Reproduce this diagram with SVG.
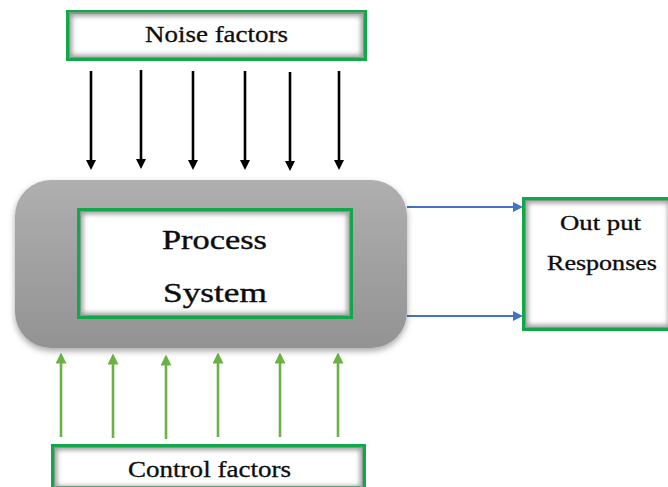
<svg xmlns="http://www.w3.org/2000/svg" width="668" height="487" viewBox="0 0 668 487">
<defs>
<filter id="blur" x="-10%" y="-10%" width="120%" height="120%"><feGaussianBlur stdDeviation="2.5"/></filter>
<filter id="shadow" x="-10%" y="-10%" width="120%" height="130%"><feDropShadow dx="0" dy="3" stdDeviation="3" flood-color="#000" flood-opacity="0.35"/></filter>
<linearGradient id="gray" x1="0" y1="0" x2="0" y2="1"><stop offset="0" stop-color="#afafaf"/><stop offset="1" stop-color="#939393"/></linearGradient>
<marker id="ahB" markerWidth="10" markerHeight="10" refX="5" refY="5" orient="auto" markerUnits="userSpaceOnUse" viewBox="0 0 10 10"><path d="M0,0 L10,5 L0,10 Z" fill="#000"/></marker>
<marker id="ahG" markerWidth="11" markerHeight="11" refX="5" refY="5" orient="auto" markerUnits="userSpaceOnUse" viewBox="0 0 10 10"><path d="M0,0 L10,5 L0,10 Z" fill="#6cb143"/></marker>
<marker id="ahU" markerWidth="11" markerHeight="10" refX="5" refY="5" orient="auto" markerUnits="userSpaceOnUse" viewBox="0 0 10 10"><path d="M0,0 L10,5 L0,10 Z" fill="#4472c4"/></marker>
<clipPath id="cN"><rect x="69" y="12" width="295" height="46"/></clipPath>
<clipPath id="cP"><rect x="80" y="211" width="270" height="105"/></clipPath>
<clipPath id="cO"><rect x="525" y="200" width="145" height="128"/></clipPath>
<clipPath id="cC"><rect x="54" y="447" width="309" height="40"/></clipPath>
</defs>
<rect width="668" height="487" fill="#fff"/>

<g id="connectors" fill="none">
<g stroke="#000" stroke-width="2.6" marker-end="url(#ahB)">
<line x1="91" y1="71" x2="91" y2="165"/>
<line x1="141" y1="70" x2="141" y2="164"/>
<line x1="193" y1="71" x2="193" y2="165"/>
<line x1="245" y1="71" x2="245" y2="165"/>
<line x1="290" y1="72" x2="290" y2="166"/>
<line x1="339" y1="71" x2="339" y2="165"/>
</g>
<g stroke="#6cb143" stroke-width="2.6" marker-end="url(#ahG)">
<line x1="61" y1="437" x2="61" y2="358"/>
<line x1="113" y1="438" x2="113" y2="359"/>
<line x1="166" y1="439" x2="166" y2="360"/>
<line x1="218" y1="437" x2="218" y2="358"/>
<line x1="280" y1="437" x2="280" y2="358"/>
<line x1="338" y1="437" x2="338" y2="358"/>
</g>
<g stroke="#4472c4" stroke-width="1.8" marker-end="url(#ahU)">
<line x1="407" y1="207" x2="518" y2="207"/>
<line x1="407" y1="316" x2="518" y2="316"/>
</g>
</g>

<g id="noise">
<rect x="68" y="12" width="297" height="47" fill="#fff" stroke="#12a84a" stroke-width="4"/>
<rect x="69" y="13" width="295" height="45" fill="none" stroke="#9a9a9a" stroke-width="6" filter="url(#blur)" clip-path="url(#cN)"/>
<text x="145" y="42" font-family="Liberation Serif" font-size="23" fill="#0d0d0d" stroke="#0d0d0d" stroke-width="0.3" textLength="143" lengthAdjust="spacingAndGlyphs">Noise factors</text>
</g>

<g id="process">
<rect x="15" y="180" width="392" height="168" rx="36" fill="url(#gray)" filter="url(#shadow)"/>
<rect x="79" y="210" width="272" height="107" fill="#fff" stroke="#12a84a" stroke-width="4"/>
<rect x="80" y="211" width="270" height="105" fill="none" stroke="#9a9a9a" stroke-width="6" filter="url(#blur)" clip-path="url(#cP)"/>
<text x="162" y="249" font-family="Liberation Serif" font-size="28" fill="#0d0d0d" stroke="#0d0d0d" stroke-width="0.4" textLength="105" lengthAdjust="spacingAndGlyphs">Process</text>
<text x="163" y="302" font-family="Liberation Serif" font-size="28" fill="#0d0d0d" stroke="#0d0d0d" stroke-width="0.4" textLength="104" lengthAdjust="spacingAndGlyphs">System</text>
</g>

<g id="output">
<rect x="524" y="199" width="148" height="130" fill="#fff" stroke="#12a84a" stroke-width="4"/>
<rect x="525" y="200" width="146" height="128" fill="none" stroke="#9a9a9a" stroke-width="6" filter="url(#blur)" clip-path="url(#cO)"/>
<text x="560" y="230" font-family="Liberation Serif" font-size="20" fill="#0d0d0d" stroke="#0d0d0d" stroke-width="0.3" textLength="81" lengthAdjust="spacingAndGlyphs">Out put</text>
<text x="547" y="270" font-family="Liberation Serif" font-size="20" fill="#0d0d0d" stroke="#0d0d0d" stroke-width="0.3" textLength="110" lengthAdjust="spacingAndGlyphs">Responses</text>
</g>

<g id="control">
<rect x="53" y="446" width="311" height="42" fill="#fff" stroke="#12a84a" stroke-width="4"/>
<rect x="54" y="447" width="309" height="42" fill="none" stroke="#9a9a9a" stroke-width="6" filter="url(#blur)" clip-path="url(#cC)"/>
<text x="128" y="477" font-family="Liberation Serif" font-size="23" fill="#0d0d0d" stroke="#0d0d0d" stroke-width="0.3" textLength="163" lengthAdjust="spacingAndGlyphs">Control factors</text>
</g>
</svg>
